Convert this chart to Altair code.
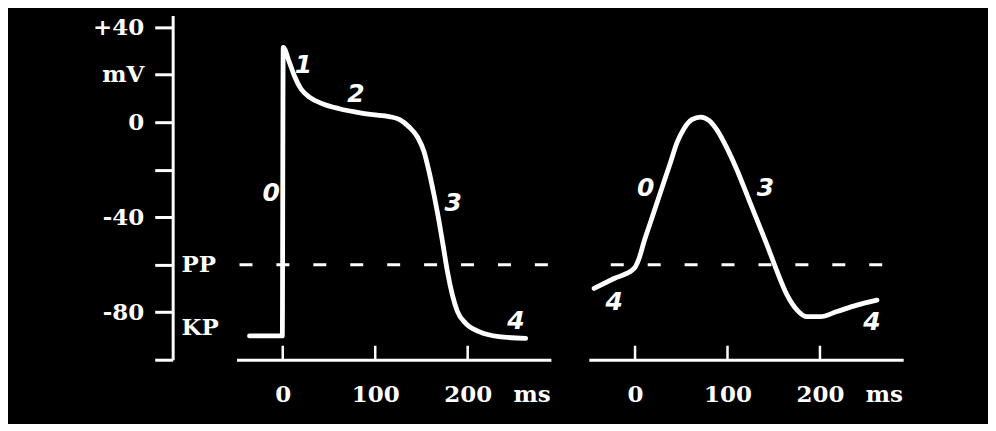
import altair as alt
import pandas as pd

# ---- data (time in ms, potential in mV) ----
left_t = [-36, -0.5, 0.5, 7, 12.6, 19.8, 28.8, 42.8, 61.2, 79.2, 97.1, 115.1, 126,
          136.7, 145.7, 152.9, 158.3, 163.7, 169.1, 173.4, 178.1, 183.5, 188.9,
          197.9, 212.3, 233.9, 262.7]
left_v = [-90, -90, 31.5, 25.4, 19.5, 14, 10.6, 7.8, 5.7, 4.3, 3.2, 2.4, 1.2,
          -2, -6.2, -12.5, -20.9, -30.8, -41.9, -51.8, -62.9, -72.8, -79.7,
          -84.7, -88.2, -90.3, -91]

right_t = [-44.3, -22.7, -1.1, 4.3, 9.7, 16.9, 24.1, 31.3, 38.5, 45.7, 52.9, 61.9,
           70.9, 79.9, 88.9, 99.7, 110.5, 121.3, 132.1, 142.9, 153.7, 164.5,
           175.3, 186.1, 200.4, 218.4, 240, 261.6]
right_v = [-70, -65.8, -61.6, -57.4, -50.3, -41.9, -33.5, -25.1, -16.7, -8.3, -2.7,
           1.2, 2.2, 0.8, -3.4, -11.1, -20.3, -30.8, -41.3, -51.8, -62.9, -72.8,
           -79.1, -81.9, -81.9, -79.7, -77, -74.9]

left_lab = ["1", "2", "0", "3", "4"]
left_lab_t = [22.3, 79.2, -12.6, 184.2, 252.2]
left_lab_v = [24.2, 12.0, -30.0, -33.8, -83.8]

right_lab = ["0", "3", "4", "4"]
right_lab_t = [11.5, 141, -22.7, 256.2]
right_lab_v = [-27.9, -27.9, -75.5, -84]

level_names = ["PP", "KP"]
level_t = [-109.4, -109.4]
level_v = [-60, -86.8]

pp_value = -60
left_dash = [-46.8, 288]
right_dash = [-50, 268]

x_ticks = [0, 100, 200]
x_unit = "ms"
x_unit_pos = 269

y_ticks = [40, 20, 0, -20, -40, -60, -80, -100]
y_tick_labels = ["+40", "mV", "0", "", "-40", "", "-80", ""]

# ---- chart ----
W, H = 315, 345
xscale = alt.Scale(domain=[-50, 290], nice=False, zero=False)
yscale = alt.Scale(domain=[-100, 45], nice=False, zero=False)

SERIF = "DejaVu Serif"
FS = 23

y_expr = "".join(
    f"datum.value == {v} ? '{l}' : " for v, l in zip(y_ticks, y_tick_labels)
) + "''"

x_axis = alt.Axis(
    values=x_ticks + [x_unit_pos],
    labelExpr=f"datum.value == {x_unit_pos} ? '{x_unit}' : datum.label",
    ticks=False, grid=False, title="",
    domainColor="white", domainWidth=3,
    labelColor="white", labelFont=SERIF, labelFontWeight="bold", labelFontSize=FS,
    labelPadding=24, labelFlush=False, labelOverlap=False,
)
y_axis = alt.Axis(
    values=y_ticks, labelExpr=y_expr, grid=False, title="",
    tickSize=18, tickWidth=3, tickColor="white",
    domainColor="white", domainWidth=3, offset=64,
    labelColor="white", labelFont=SERIF, labelFontWeight="bold", labelFontSize=FS,
    labelPadding=11, labelFlush=False, labelOverlap=False,
)


def panel(ts, vs, labs, lab_t, lab_v, dash, dash_offset, with_y_axis):
    yax = y_axis if with_y_axis else None

    def X(f):
        return alt.X(f, scale=xscale, axis=x_axis)

    def Y(f):
        return alt.Y(f, scale=yscale, axis=yax)

    curve_df = pd.DataFrame({"t": ts, "v": vs})
    curve = alt.Chart(curve_df).mark_line(
        color="white", strokeWidth=4.8, interpolate="monotone",
        strokeCap="round", strokeJoin="round",
    ).encode(x=X("t:Q"), y=Y("v:Q"))

    dash_df = pd.DataFrame({"t0": [dash[0]], "t1": [dash[1]], "v": [pp_value]})
    dashed = alt.Chart(dash_df).mark_rule(
        color="white", strokeWidth=3, strokeDash=[13, 24], strokeDashOffset=dash_offset,
    ).encode(x=X("t0:Q"), x2="t1:Q", y=Y("v:Q"))

    tick_df = pd.DataFrame({"t": x_ticks})
    ticks = alt.Chart(tick_df).mark_rule(color="white", strokeWidth=2.5).encode(
        x=X("t:Q"), y=alt.value(H), y2=alt.value(H - 14),
    )

    lab_df = pd.DataFrame({"t": lab_t, "v": lab_v, "s": labs})
    labels = alt.Chart(lab_df).mark_text(
        color="white", font="DejaVu Sans", fontStyle="italic", fontWeight="bold",
        fontSize=25,
    ).encode(x=X("t:Q"), y=Y("v:Q"), text="s:N")

    layers = [curve, dashed, ticks, labels]
    if with_y_axis:
        lv_df = pd.DataFrame({"t": level_t, "v": level_v, "s": level_names})
        lv = alt.Chart(lv_df).mark_text(
            color="white", font=SERIF, fontWeight="bold", fontSize=FS, align="left",
        ).encode(x=X("t:Q"), y=Y("v:Q"), text="s:N")
        layers.append(lv)
    return alt.layer(*layers).properties(width=W, height=H)


left = panel(left_t, left_v, left_lab, left_lab_t, left_lab_v, left_dash, 0, True)
right = panel(right_t, right_v, right_lab, right_lab_t, right_lab_v, right_dash, 15, False)

chart = alt.hconcat(left, right, spacing=36).properties(
    padding={"left": 84, "top": 7, "right": 85, "bottom": 17}
).configure(background="black").configure_view(strokeWidth=0)

chart.save("out.html", embed_options={"renderer": "svg", "actions": False})
